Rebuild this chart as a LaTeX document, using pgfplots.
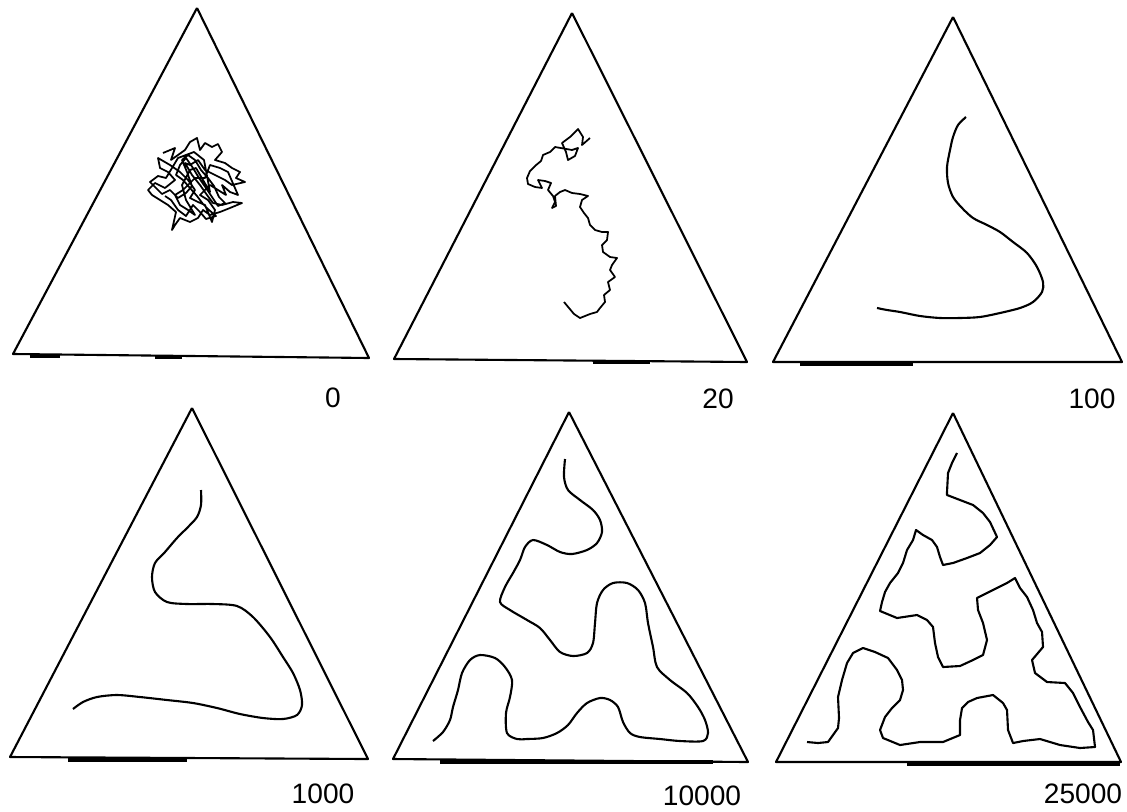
\documentclass[border=0pt]{standalone}
\usepackage{pgfplots}
\pgfplotsset{compat=1.18}
\usepackage{fontspec}
\setmainfont{Liberation Sans}
\begin{document}
\begin{tikzpicture}
\begin{axis}[
  width=11.27cm, height=8.11cm, scale only axis,
  xmin=0, xmax=1127, ymin=0, ymax=811, y dir=reverse,
  axis lines=none, ticks=none, clip=false,
  cycle list={{black,solid,mark=none}},
  every axis plot/.append style={black, solid, line width=0.6pt, mark=none, line join=round},
]
\addplot[draw=none] coordinates {(0,0) (1127,811)};
% triangles
\addplot[black] coordinates {(197,8) (13,354) (369,358) (197,8)};
\addplot[black] coordinates {(572,13) (394,359) (747,362) (572,13)};
\addplot[black] coordinates {(953,17) (773,362) (1122,362) (953,17)};
\addplot[black] coordinates {(192,408) (10,757) (368,759) (192,408)};
\addplot[black] coordinates {(569,412) (393,759) (748,762) (569,412)};
\addplot[black] coordinates {(953,413) (776,762) (1121,762) (953,413)};
% thicker bits on bottom edges
\addplot[black, line width=1.1pt] coordinates {(30,356) (60,356)};
\addplot[black, line width=1.1pt] coordinates {(155,357) (182,357)};
\addplot[black, line width=1.1pt] coordinates {(593,362) (650,362)};
\addplot[black, line width=1.1pt] coordinates {(800,364) (913,364)};
\addplot[black, line width=1.1pt] coordinates {(68,760) (187,760)};
\addplot[black, line width=1.1pt] coordinates {(440,762) (713,762)};
\addplot[black, line width=1.1pt] coordinates {(907,764) (1120,764)};
% 0 : scribble
\addplot[black, line width=0.5pt] coordinates {
(163,153) (175,148) (171,160) (185,150) (190,142) (197,138) (200,150) (205,143)
(212,147) (218,144) (222,152) (215,160) (225,163) (232,168) (240,172) (236,178)
(245,182) (232,185) (225,180) (215,175) (205,170) (198,160) (190,165) (185,163)
(192,175) (200,185) (207,195) (213,203) (222,205) (233,202) (242,203) (230,208)
(220,212) (210,215) (203,210) (198,218) (190,222) (180,218) (175,225) (172,230)
(176,212) (168,205) (160,200) (152,195) (148,190) (155,183) (165,188) (175,180)
(168,172) (160,168) (158,158) (170,165) (180,172) (188,180) (195,190) (190,198)
(198,202) (205,205) (212,222) (215,210) (208,200) (200,195) (210,185) (218,190)
(226,195) (222,185) (230,192) (238,195) (228,172) (220,168) (210,165) (205,178)
(195,178) (183,190) (175,195) (180,205) (188,210) (195,215) (186,200) (182,185)
(190,170) (196,168) (203,180) (210,192) (204,160) (194,152) (178,158) (166,178)
(158,176) (150,182) (162,194) (170,190) (178,198) (186,193) (192,186) (187,172)
(182,160) (188,155) (195,160) (201,170) (208,178) (214,186) (219,197) (225,203)
(218,206) (212,197) (206,188) (199,178) (193,168) (186,158) (180,165) (176,175)
(183,180) (190,188) (197,196) (203,204) (209,210) (216,216) (206,219) (200,212)
(193,205) (186,216) (178,210) (171,200) (165,196)};
% 20
\addplot[black, line width=0.5pt] coordinates {
(590,138) (582,145) (583,137) (578,129) (570,137) (562,143) (566,152) (568,160)
(575,156) (578,148) (572,150) (555,147) (550,152) (543,155) (541,161) (535,166)
(530,171) (527,178) (528,184) (535,187) (542,188) (538,180) (545,181) (551,183)
(548,190) (553,196) (555,202) (552,208) (556,206) (555,196) (560,192) (565,190)
(572,193) (580,194) (588,196) (582,200) (580,207) (584,213) (588,218) (590,225)
(595,230) (602,232) (608,232) (607,240) (602,245) (603,252) (610,257) (617,258)
(612,265) (610,270) (615,277) (608,282) (610,290) (604,295) (605,302) (600,308)
(597,312) (590,314) (585,316) (580,318) (574,314) (569,308) (564,302)};
% 100
\addplot[black, smooth] coordinates {
(966,117) (958,125) (953,137) (950,150) (947,167) (948,183) (953,197) (962,208)
(973,218) (987,225) (1000,232) (1013,242) (1027,253) (1037,267) (1043,282)
(1042,292) (1033,302) (1020,308) (1000,313) (980,317) (960,318) (940,318)
(920,316) (900,312) (887,310) (877,308)};
% 1000
\addplot[black, smooth] coordinates {
(201,490) (201,505) (197,517) (188,527) (177,538) (165,552) (155,563) (152,577)
(155,592) (167,602) (187,604) (213,604) (237,606) (253,617) (270,637) (283,657)
(293,673) (300,690) (302,705) (297,715) (283,719) (263,718) (240,714) (217,708)
(193,703) (167,700) (140,697) (117,695) (97,697) (83,702) (73,709)};
% 10000
\addplot[black, smooth] coordinates {
(565,459) (564,477) (568,490) (580,500) (593,510) (600,520) (602,532) (597,543)
(587,550) (572,554) (560,552) (547,545) (533,540) (525,547) (520,560) (513,573)
(505,587) (500,602) (510,610) (527,620) (540,628) (550,640) (560,652) (573,656)
(587,653) (593,643) (595,623) (597,603) (603,590) (613,583) (627,583) (638,590)
(645,603) (648,623) (653,647) (657,667) (670,680) (687,693) (698,707) (705,720)
(708,733) (703,741) (680,741) (660,739) (640,737) (630,733) (623,722) (618,707)
(610,700) (600,698) (587,703) (577,713) (568,725) (557,733) (543,738) (527,739)
(517,739) (507,733) (506,713) (510,697) (512,680) (505,667) (495,658) (480,655)
(470,660) (462,673) (458,690) (453,707) (450,720) (443,732) (433,741)};
% 25000
\addplot[black] coordinates {
(957,453) (952,463) (948,473) (947,492) (947,495) (960,500) (973,505) (983,513)
(990,522) (997,537) (990,545) (980,553) (967,558) (953,563) (943,565) (940,557)
(937,547) (932,540) (923,535) (916,530) (913,540) (907,550) (903,563) (898,573)
(890,583) (885,592) (882,602) (880,611) (897,618) (917,615) (927,620) (933,627)
(935,643) (938,657) (943,667) (960,666) (973,660) (983,655) (987,640) (983,623)
(978,610) (977,598) (993,590) (1007,583) (1015,578) (1020,588) (1027,597)
(1033,610) (1037,623) (1042,632) (1043,647) (1032,660) (1035,673) (1047,682)
(1065,683) (1073,693) (1080,707) (1088,722) (1093,730) (1095,747) (1080,748)
(1060,745) (1040,739) (1023,741) (1013,743) (1008,730) (1007,710) (1003,703)
(993,695) (977,698) (968,702) (962,708) (960,720) (960,735) (943,742) (920,742)
(900,745) (883,738) (880,730) (885,717) (892,708) (900,700) (903,690) (902,680)
(897,670) (888,658) (875,652) (863,648) (853,653) (847,663) (842,680) (838,697)
(839,718) (838,728) (828,742) (818,743) (807,742)};
% labels
\begin{scope}[every node/.style={font=\fontsize{8}{9.6}\selectfont, inner sep=0pt}]
\node at (axis cs:333,398) {0};
\node at (axis cs:718,399) {20};
\node at (axis cs:1092,399) {100};
\node at (axis cs:323,794) {1000};
\node at (axis cs:702,796) {10000};
\node at (axis cs:1083,794) {25000};
\end{scope}
\end{axis}
\end{tikzpicture}
\end{document}
